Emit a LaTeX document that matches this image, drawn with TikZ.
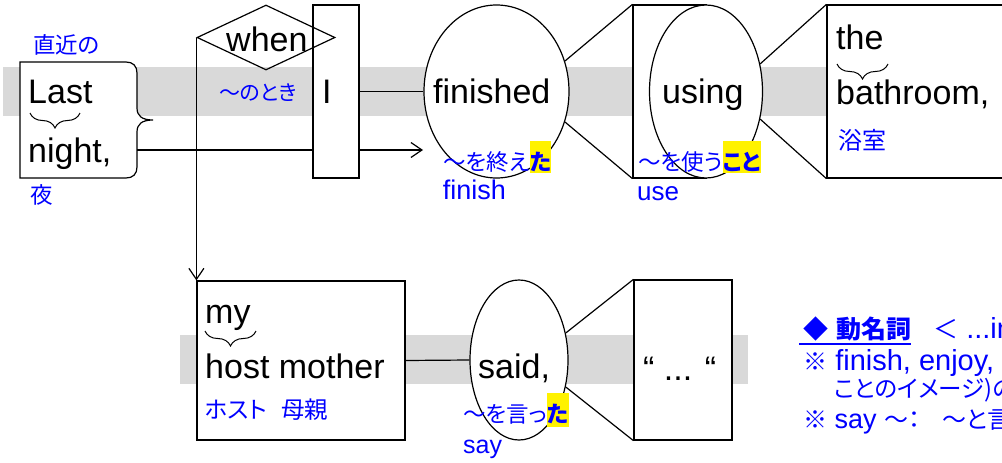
\documentclass[tikz,border=0pt]{standalone}
\usepackage{fontspec}
\setmainfont{Liberation Sans}
\newfontfamily\cjk[RawFeature=+palt]{Noto Sans CJK JP}
\usetikzlibrary{shapes.geometric, arrows.meta, decorations.pathreplacing}
\definecolor{bandgray}{HTML}{D9D9D9}
\definecolor{jblue}{HTML}{0000FF}
\begin{document}
\begin{tikzpicture}[x=1pt,y=-1pt,
  ln/.style={line width=1.2pt, black},
  shp/.style={draw, line width=1.2pt, fill=white, inner sep=0pt},
  boxs/.style={shp, rectangle},
  ell/.style={shp, ellipse},
  blk/.style={inner sep=0pt, anchor=base west, font=\fontsize{34}{40}\selectfont},
  jp/.style={inner sep=0pt, anchor=base west, text=jblue, font=\cjk\fontsize{22.5}{27}\selectfont},
  en/.style={inner sep=0pt, anchor=base west, text=jblue, font=\fontsize{27}{31}\selectfont},
  hl/.style={inner sep=0pt, anchor=base west, fill=yellow, text=jblue, text height=29pt, text depth=3pt, font=\cjk\bfseries\fontsize{22.5}{27}\selectfont},
  ann/.style={inner sep=0pt, anchor=base west, text=jblue, font=\fontsize{29}{33}\selectfont},
  brc/.style={decorate, decoration={brace, mirror, amplitude=15pt}, line width=1pt},
  arr/.style={ln, -{Straight Barb[length=11pt, width=15pt]}}
]
\useasboundingbox (0,0) rectangle (1002,463);
\clip (0,0) rectangle (1002,463);

% gray bands
\fill[bandgray] (3,67) rectangle (1002,116);
\fill[bandgray] (180,335) rectangle (748,384);

% Last night box with brace side
\draw[ln, fill=white] (20,62) -- (126,62) .. controls (133,62) and (137,66) .. (137,73)
  -- (137,108) .. controls (137,116) and (142,120) .. (153,120)
  .. controls (142,120) and (137,124) .. (137,132)
  -- (137,167) .. controls (137,174) and (133,178) .. (126,178) -- (20,178) -- cycle;
\coordinate (lastR) at (137,150);
\coordinate (tipA) at (423,150);

% shapes
\node[boxs, minimum width=46pt, minimum height=173pt] (Ibox) at (336,91.5) {};
\node[ell, minimum width=145pt, minimum height=173pt] (finel) at (496.5,91.5) {};
\node[boxs, minimum width=73pt, minimum height=173pt] (usebox) at (669.5,91.5) {};
\node[ell, minimum width=113pt, minimum height=173pt] (useel) at (706,91.5) {};
\node[boxs, minimum width=190pt, minimum height=173pt] (bathbox) at (922,91.5) {};
\node[boxs, minimum width=208pt, minimum height=159pt] (hostbox) at (301,360.5) {};
\node[ell, minimum width=98pt, minimum height=160pt] (saidel) at (519,360) {};
\node[boxs, minimum width=98pt, minimum height=160pt] (quotebox) at (683,360) {};
\node[diamond, draw, line width=1.2pt, minimum width=138pt, minimum height=65pt, inner sep=0pt, aspect=2.12] (whend) at (266,37.5) {};

% connectors
\draw[ln] (lastR) -- (Ibox.west |- lastR);
\draw[arr] (Ibox.east |- lastR) -- (tipA);
\draw[ln] (Ibox.east) -- (finel.west);
\draw[ln] (finel.24) -- (usebox.north west);
\draw[ln] (finel.-24) -- (usebox.south west);
\draw[ln] (useel.27) -- (bathbox.north west);
\draw[ln] (useel.-27) -- (bathbox.south west);
\draw[arr] (whend.west) -- (hostbox.north west);
\draw[ln] (hostbox.east) -- (saidel.west);
\draw[ln] (saidel.30) -- (quotebox.north west);
\draw[ln] (saidel.-30) -- (quotebox.south west);

% black texts
\node[blk] (tLast) at (28,103) {Last};
\node[blk] (tNight) at (28,162) {night,};
\node[blk] (tWhen) at (226,51) {when};
\node[blk] (tI) at (322,103) {I};
\node[blk] (tFin) at (433,103) {finished};
\node[blk] (tUsing) at (662,103) {using};
\node[blk] (tThe) at (836,49) {the};
\node[blk] (tBath) at (836,104) {bathroom,};
\node[blk] (tMy) at (205,323) {my};
\node[blk] (tHost) at (205,378) {host mother};
\node[blk] (tSaid) at (478,378) {said,};
\node[blk] (tQuote) at (643,380) {“ ... “};

% braces
\draw[brc] (30,113) -- (80,113);
\draw[brc] (837,64) -- (888,64);
\draw[brc] (205,331) -- (256,331);

% blue labels
\node[jp] (jChok) at (33,53.5) {直近の};
\node[jp] (jYoru) at (30,203.5) {夜};
\node[jp, font=\cjk\fontsize{21}{25}\selectfont] (jToki) at (219,100.5) {～のとき};
\node[jp] (jFin) at (443,170) {～を終え};
\node[hl] (jFinTa) at (jFin.base east) {た};
\node[en] (eFin) at (442.7,199) {finish};
\node[jp] (jUse) at (638,170) {～を使う};
\node[hl] (jUseKoto) at (jUse.base east) {こと};
\node[en, font=\fontsize{26}{30}\selectfont] (eUse) at (637,200) {use};
\node[jp, font=\cjk\fontsize{24}{28}\selectfont] (jBath) at (838,149) {浴室};
\node[jp, font=\cjk\fontsize{23.5}{28}\selectfont] (jHost) at (205,418.5) {ホスト\hspace{14pt}母親};
\node[jp] (jSaid) at (463,422) {～を言っ};
\node[hl, text depth=5pt] (jSaidTa) at (jSaid.base east) {た};
\node[en, font=\fontsize{25}{30}\selectfont] (eSay) at (463,453) {say};

% annotation
\node[ann, font=\cjk\bfseries\fontsize{25}{29}\selectfont] (a1a) at (803,338) {◆\hspace{8pt}動名詞};
\draw[jblue, line width=2pt] ([xshift=-4pt, yshift=-6pt]a1a.base west) -- ([yshift=-6pt]a1a.base east);
\node[ann] (a1b) at (933,338) {{\cjk\fontsize{25}{29}\selectfont ＜} ...in};
\node[ann] (a2) at (803,370) {{\cjk\fontsize{24}{28}\selectfont ※} finish, enjoy,};
\node[ann, font=\cjk\fontsize{23.5}{27}\selectfont] (a3) at (834,397) {ことのイメージ)の};
\node[ann, font=\fontsize{27}{31}\selectfont] (a4) at (803,428) {{\cjk\fontsize{24}{28}\selectfont ※} say {\cjk\fontsize{24}{28}\selectfont ～：\hspace{22pt}～と言}};
\end{tikzpicture}
\end{document}
